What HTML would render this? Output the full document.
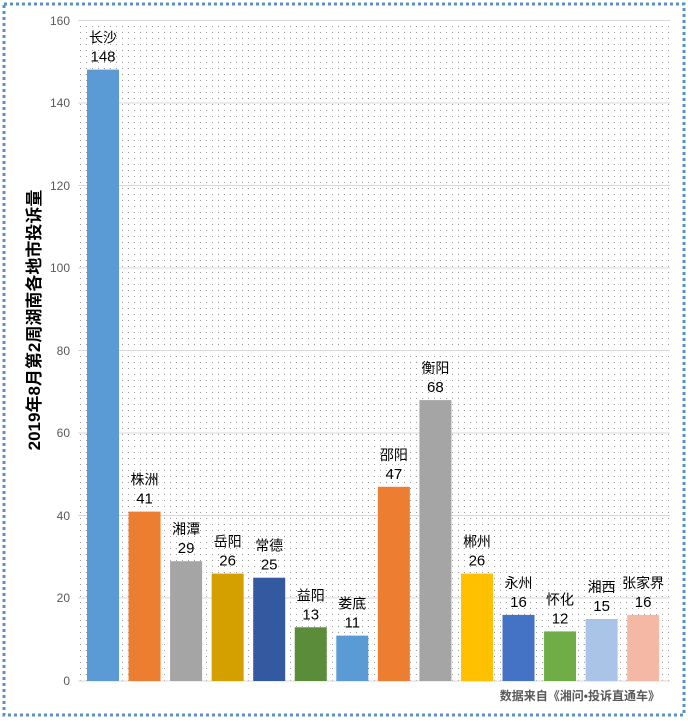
<!DOCTYPE html><html><head><meta charset="utf-8"><style>body{margin:0;background:#fff}svg{display:block;font-family:"Liberation Sans","Noto Sans CJK SC",sans-serif}</style></head><body>
<svg width="688" height="721" viewBox="0 0 688 721">
<defs><pattern id="d" width="6" height="6" patternUnits="userSpaceOnUse"><rect x="2" y="2" width="1" height="1" fill="#9a9a9a"/></pattern></defs>
<rect x="4" y="4" width="680" height="711" fill="none" stroke="#5b8fc8" stroke-width="3" stroke-dasharray="3,3"/>
<rect x="78" y="20" width="592" height="661" fill="url(#d)"/>
<g stroke="#d9d9d9" stroke-width="1">
<line x1="78" x2="670" y1="20.5" y2="20.5"/><line x1="78" x2="670" y1="103" y2="103"/><line x1="78" x2="670" y1="185.5" y2="185.5"/><line x1="78" x2="670" y1="268" y2="268"/><line x1="78" x2="670" y1="350.5" y2="350.5"/><line x1="78" x2="670" y1="433" y2="433"/><line x1="78" x2="670" y1="515.5" y2="515.5"/><line x1="78" x2="670" y1="598" y2="598"/><line x1="78" x2="670" y1="681" y2="681"/>
</g>
<g font-size="12" fill="#595959" text-anchor="end">
<text x="70" y="25">160</text><text x="70" y="107">140</text><text x="70" y="190">120</text><text x="70" y="272">100</text><text x="70" y="355">80</text><text x="70" y="437">60</text><text x="70" y="520">40</text><text x="70" y="602">20</text><text x="70" y="685">0</text>
</g>
<text transform="translate(40,320) rotate(-90)" text-anchor="middle" font-size="17" font-weight="bold" fill="#000">2019年8月第2周湖南各地市投诉量</text>
<g>
<rect x="87" y="69.6" width="32" height="611.4" fill="#5b9bd5"/>
<rect x="128.55" y="511.6" width="32" height="169.4" fill="#ed7d31"/>
<rect x="170.1" y="561.2" width="32" height="119.8" fill="#a5a5a5"/>
<rect x="211.65" y="573.6" width="32" height="107.4" fill="#d4a000"/>
<rect x="253.2" y="577.7" width="32" height="103.3" fill="#335aa0"/>
<rect x="294.75" y="627.3" width="32" height="53.7" fill="#5b8c3a"/>
<rect x="336.3" y="635.6" width="32" height="45.4" fill="#5b9bd5"/>
<rect x="377.85" y="486.8" width="32" height="194.2" fill="#ed7d31"/>
<rect x="419.4" y="400.1" width="32" height="280.9" fill="#a5a5a5"/>
<rect x="460.95" y="573.6" width="32" height="107.4" fill="#ffc000"/>
<rect x="502.5" y="614.9" width="32" height="66.1" fill="#4472c4"/>
<rect x="544.05" y="631.4" width="32" height="49.6" fill="#70ad47"/>
<rect x="585.6" y="619" width="32" height="62" fill="#a9c4e6"/>
<rect x="627.15" y="614.9" width="32" height="66.1" fill="#f4b8a4"/>
</g>
<g text-anchor="middle" fill="#000">
<g font-size="14">
<text x="103" y="42.6">长沙</text><text x="144.55" y="484.6">株洲</text><text x="186.1" y="534.2">湘潭</text><text x="227.65" y="546.6">岳阳</text><text x="269.2" y="550.7">常德</text><text x="310.75" y="600.3">益阳</text><text x="352.3" y="608.6">娄底</text><text x="393.85" y="459.8">邵阳</text><text x="435.4" y="373.1">衡阳</text><text x="476.95" y="546.6">郴州</text><text x="518.5" y="587.9">永州</text><text x="560.05" y="604.4">怀化</text><text x="601.6" y="592">湘西</text><text x="643.15" y="587.9">张家界</text>
</g>
<g font-size="15">
<text x="103" y="61.6">148</text><text x="144.55" y="503.6">41</text><text x="186.1" y="553.2">29</text><text x="227.65" y="565.6">26</text><text x="269.2" y="569.7">25</text><text x="310.75" y="619.3">13</text><text x="352.3" y="627.6">11</text><text x="393.85" y="478.8">47</text><text x="435.4" y="392.1">68</text><text x="476.95" y="565.6">26</text><text x="518.5" y="606.9">16</text><text x="560.05" y="623.4">12</text><text x="601.6" y="611">15</text><text x="643.15" y="606.9">16</text>
</g>
</g>
<text x="660" y="700" text-anchor="end" font-size="12" font-weight="bold" fill="#595959">数据来自《湘问•投诉直通车》</text>
</svg></body></html>
